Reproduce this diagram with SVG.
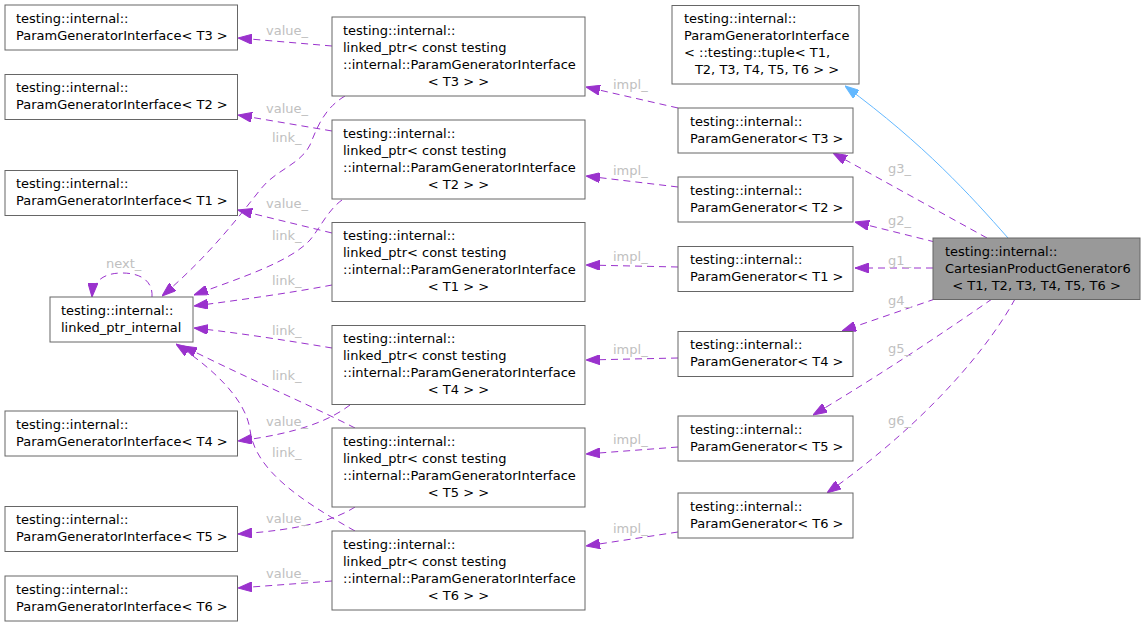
<svg xmlns="http://www.w3.org/2000/svg" width="1145" height="626" viewBox="0 0 1145 626">
<style>
.box{fill:#ffffff;stroke:#666666;stroke-width:1}
.focus{fill:#999999;stroke:#666666;stroke-width:1}
text{font-family:"DejaVu Sans","Liberation Sans",sans-serif;font-size:13px;fill:#000000}
.lbl{fill:#c0c0c0}
.mid{text-anchor:middle}
.e{fill:none;stroke:#9a32cd;stroke-width:1;stroke-dasharray:7,5;marker-end:url(#ap)}
.inh{fill:none;stroke:#63b8ff;stroke-width:1;marker-end:url(#ab)}
</style>
<defs>
<marker id="ap" viewBox="0 0 14 10" refX="14" refY="5" markerWidth="14" markerHeight="10" markerUnits="userSpaceOnUse" orient="auto"><path d="M0,0 L14,5 L0,10 z" fill="#9a32cd" stroke="#9a32cd"/></marker>
<marker id="ab" viewBox="0 0 14 10" refX="14" refY="5" markerWidth="14" markerHeight="10" markerUnits="userSpaceOnUse" orient="auto"><path d="M0,0 L14,5 L0,10 z" fill="#63b8ff" stroke="#63b8ff"/></marker>
</defs>
<rect width="1145" height="626" fill="#ffffff"/>
<g id="edges">
<path class="inh" d="M1008,238 C970,195 925,145 845,86"/>
<path class="e" d="M987,238 L833,153"/>
<path class="e" d="M935,242 L855,222"/>
<path class="e" d="M933,268 L855,268"/>
<path class="e" d="M935,299 L842,331"/>
<path class="e" d="M992,299 C940,335 880,375 813,415"/>
<path class="e" d="M1015,299 C990,345 930,420 827,493"/>
<path class="e" d="M678,108 L586,87"/>
<path class="e" d="M678,187 L586,176"/>
<path class="e" d="M678,267 L586,265"/>
<path class="e" d="M678,358 L586,360"/>
<path class="e" d="M678,447 L586,454"/>
<path class="e" d="M678,532 L586,546"/>
<path class="e" d="M332,46 L238,38"/>
<path class="e" d="M332,131 L238,115"/>
<path class="e" d="M332,233 L238,210"/>
<path class="e" d="M350,405 C330,420 300,433 238,441"/>
<path class="e" d="M355,507 C335,520 300,530 238,534"/>
<path class="e" d="M332,581 L238,588"/>
<path class="e" d="M345,96 C325,108 318,125 310,145 C300,165 275,170 260,190 C240,215 210,255 162,296"/>
<path class="e" d="M342,200 C328,210 320,228 310,240 C290,262 240,278 194,295"/>
<path class="e" d="M332,285 C290,293 240,300 194,306"/>
<path class="e" d="M332,348 C290,341 240,333 194,328"/>
<path class="e" d="M355,428 C310,405 240,375 183,346"/>
<path class="e" d="M355,531 C300,500 255,470 250,430 C246,400 215,370 176,344"/>
<path class="e" d="M152,297 C153,282 142,273 122,273 C105,273 93,280 92,297"/>
<text class="lbl" x="266" y="35">value_</text>
<text class="lbl" x="266" y="113">value_</text>
<text class="lbl" x="272" y="142">link_</text>
<text class="lbl" x="266" y="208">value_</text>
<text class="lbl" x="272" y="240">link_</text>
<text class="lbl" x="106" y="268">next_</text>
<text class="lbl" x="272" y="285">link_</text>
<text class="lbl" x="272" y="335">link_</text>
<text class="lbl" x="272" y="380">link_</text>
<text class="lbl" x="266" y="426">value_</text>
<text class="lbl" x="272" y="457">link_</text>
<text class="lbl" x="266" y="523">value_</text>
<text class="lbl" x="266" y="578">value_</text>
<text class="lbl" x="613" y="89">impl_</text>
<text class="lbl" x="613" y="175">impl_</text>
<text class="lbl" x="613" y="261">impl_</text>
<text class="lbl" x="613" y="354">impl_</text>
<text class="lbl" x="613" y="444">impl_</text>
<text class="lbl" x="613" y="533">impl_</text>
<text class="lbl" x="888" y="173">g3_</text>
<text class="lbl" x="888" y="225">g2_</text>
<text class="lbl" x="888" y="265">g1_</text>
<text class="lbl" x="888" y="305">g4_</text>
<text class="lbl" x="888" y="353">g5_</text>
<text class="lbl" x="888" y="425">g6_</text>
</g>
<g id="pgi3"><rect class="box" x="5" y="5" width="232.5" height="45"/><text x="16" y="22.5">testing::internal::</text><text x="16" y="39.5">ParamGeneratorInterface&lt; T3 &gt;</text></g>
<g id="pgi2"><rect class="box" x="5" y="74.5" width="232.5" height="45"/><text x="16" y="92">testing::internal::</text><text x="16" y="109">ParamGeneratorInterface&lt; T2 &gt;</text></g>
<g id="pgi1"><rect class="box" x="5" y="170.5" width="232.5" height="45"/><text x="16" y="188">testing::internal::</text><text x="16" y="205">ParamGeneratorInterface&lt; T1 &gt;</text></g>
<g id="lpi"><rect class="box" x="50" y="297" width="143" height="45"/><text x="61" y="314.5">testing::internal::</text><text x="61" y="331.5">linked_ptr_internal</text></g>
<g id="pgi4"><rect class="box" x="5" y="411" width="232.5" height="45"/><text x="16" y="428.5">testing::internal::</text><text x="16" y="445.5">ParamGeneratorInterface&lt; T4 &gt;</text></g>
<g id="pgi5"><rect class="box" x="5" y="506.5" width="232.5" height="45"/><text x="16" y="524">testing::internal::</text><text x="16" y="541">ParamGeneratorInterface&lt; T5 &gt;</text></g>
<g id="pgi6"><rect class="box" x="5" y="576" width="232.5" height="45"/><text x="16" y="593.5">testing::internal::</text><text x="16" y="610.5">ParamGeneratorInterface&lt; T6 &gt;</text></g>
<g id="lp3"><rect class="box" x="332" y="17" width="253" height="79"/><text x="343" y="34.5">testing::internal::</text><text x="343" y="51.5">linked_ptr&lt; const testing</text><text x="343" y="68.5">::internal::ParamGeneratorInterface</text><text class="mid" x="458.5" y="85.5">&lt; T3 &gt; &gt;</text></g>
<g id="lp2"><rect class="box" x="332" y="120" width="253" height="79"/><text x="343" y="137.5">testing::internal::</text><text x="343" y="154.5">linked_ptr&lt; const testing</text><text x="343" y="171.5">::internal::ParamGeneratorInterface</text><text class="mid" x="458.5" y="188.5">&lt; T2 &gt; &gt;</text></g>
<g id="lp1"><rect class="box" x="332" y="222.5" width="253" height="79"/><text x="343" y="240">testing::internal::</text><text x="343" y="257">linked_ptr&lt; const testing</text><text x="343" y="274">::internal::ParamGeneratorInterface</text><text class="mid" x="458.5" y="291">&lt; T1 &gt; &gt;</text></g>
<g id="lp4"><rect class="box" x="332" y="325.5" width="253" height="79"/><text x="343" y="343">testing::internal::</text><text x="343" y="360">linked_ptr&lt; const testing</text><text x="343" y="377">::internal::ParamGeneratorInterface</text><text class="mid" x="458.5" y="394">&lt; T4 &gt; &gt;</text></g>
<g id="lp5"><rect class="box" x="332" y="428" width="253" height="79"/><text x="343" y="445.5">testing::internal::</text><text x="343" y="462.5">linked_ptr&lt; const testing</text><text x="343" y="479.5">::internal::ParamGeneratorInterface</text><text class="mid" x="458.5" y="496.5">&lt; T5 &gt; &gt;</text></g>
<g id="lp6"><rect class="box" x="332" y="531" width="253" height="79"/><text x="343" y="548.5">testing::internal::</text><text x="343" y="565.5">linked_ptr&lt; const testing</text><text x="343" y="582.5">::internal::ParamGeneratorInterface</text><text class="mid" x="458.5" y="599.5">&lt; T6 &gt; &gt;</text></g>
<g id="pgit"><rect class="box" x="672" y="5.5" width="187" height="78.5"/><text x="684" y="23">testing::internal::</text><text x="684" y="40">ParamGeneratorInterface</text><text x="684" y="57">&lt; ::testing::tuple&lt; T1,</text><text class="mid" x="767" y="74">T2, T3, T4, T5, T6 &gt; &gt;</text></g>
<g id="pg3"><rect class="box" x="678" y="108" width="175" height="45"/><text x="690" y="125.5">testing::internal::</text><text x="690" y="142.5">ParamGenerator&lt; T3 &gt;</text></g>
<g id="pg2"><rect class="box" x="678" y="177" width="175" height="45"/><text x="690" y="194.5">testing::internal::</text><text x="690" y="211.5">ParamGenerator&lt; T2 &gt;</text></g>
<g id="pg1"><rect class="box" x="678" y="246.5" width="175" height="45"/><text x="690" y="264">testing::internal::</text><text x="690" y="281">ParamGenerator&lt; T1 &gt;</text></g>
<g id="cpg6"><rect class="focus" x="933" y="238" width="207" height="61.5"/><text x="945" y="255.5">testing::internal::</text><text x="945" y="272.5">CartesianProductGenerator6</text><text class="mid" x="1036.5" y="289.5">&lt; T1, T2, T3, T4, T5, T6 &gt;</text></g>
<g id="pg4"><rect class="box" x="678" y="331.5" width="175" height="45"/><text x="690" y="349">testing::internal::</text><text x="690" y="366">ParamGenerator&lt; T4 &gt;</text></g>
<g id="pg5"><rect class="box" x="678" y="416" width="175" height="45"/><text x="690" y="433.5">testing::internal::</text><text x="690" y="450.5">ParamGenerator&lt; T5 &gt;</text></g>
<g id="pg6"><rect class="box" x="678" y="493" width="175" height="45"/><text x="690" y="510.5">testing::internal::</text><text x="690" y="527.5">ParamGenerator&lt; T6 &gt;</text></g>
</svg>
